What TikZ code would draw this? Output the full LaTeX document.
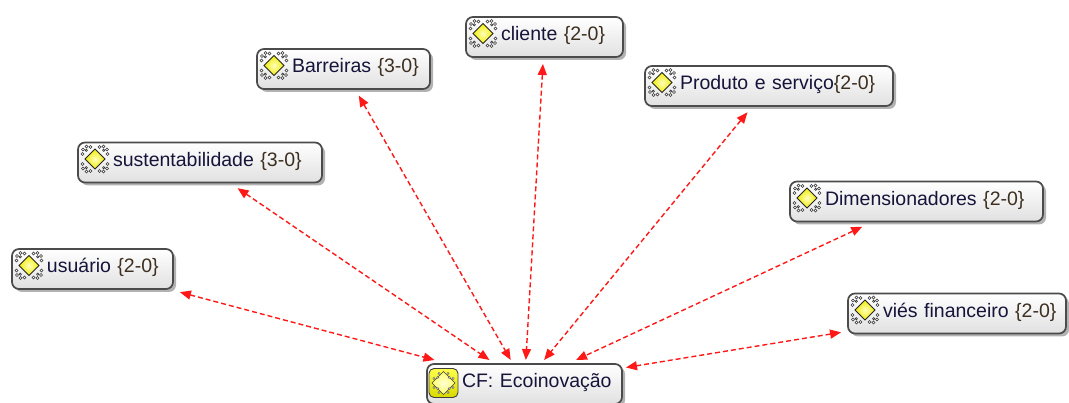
\documentclass[tikz,border=0pt]{standalone}
\usepackage{fontspec}
\setmainfont{Liberation Sans}
\usetikzlibrary{arrows.meta,shadows,calc}
\definecolor{txtc}{RGB}{22,20,58}
\definecolor{cntc}{RGB}{62,48,32}
\definecolor{bord}{RGB}{75,75,75}
\definecolor{arrc}{RGB}{255,24,24}
\definecolor{ylw}{RGB}{240,236,0}
\tikzset{
  codebox/.style={rectangle, rounded corners=7pt, draw=bord, line width=1.7pt,
    top color=white, bottom color=black!12,
    drop shadow={shadow xshift=3pt, shadow yshift=-3pt, fill=black!60},
    minimum height=40pt, inner xsep=0pt, inner ysep=0pt, align=left,
    text height=14.5pt, text depth=7pt,
    font=\fontsize{19.5}{22}\selectfont, text=txtc, outer sep=4pt},
  rel/.style={draw=arrc, line width=1.4pt, dash pattern=on 5pt off 3pt,
    {Triangle[length=11pt,width=9pt]}-{Triangle[length=11pt,width=9pt]}, shorten <=3pt},
  codeicon/.pic={
    \foreach \sx in {-1,1}{\foreach \sy in {-1,1}{
      \draw[black!80, line width=0.6pt, fill=white]
        (\sx*12.5,\sy*5) circle (1.5pt) (\sx*12,\sy*9.5) circle (1.5pt)
        (\sx*8.5,\sy*12.5) circle (1.5pt) (\sx*4.5,\sy*12) circle (1.5pt)
        (\sx*8.7,\sy*8.7) circle (1.1pt);
    }}
    \draw[black!85, line width=0.8pt, inner color=yellow!25, outer color=ylw]
      (0,-10) -- (10,0) -- (0,10) -- (-10,0) -- cycle;
  },
  cficon/.pic={
    \draw[line width=0.9pt, draw=black!75, top color=yellow!70!white, bottom color=yellow!85!black, rounded corners=5pt]
      (-14.5,-14.5) rectangle (14.5,14.5);
    \draw[black!75, line width=0.7pt, inner color=yellow!15, outer color=yellow!60!white]
      (0,-11.5) -- (11.5,0) -- (0,11.5) -- (-11.5,0) -- cycle;
    \foreach \a in {45,135,225,315}{
      \draw[black!70, line width=0.4pt, fill=white] (\a:8.1) circle (1.2pt);
      \draw[black!70, line width=0.4pt, fill=white] (\a-20:10.5) circle (1.1pt);
      \draw[black!70, line width=0.4pt, fill=white] (\a+20:10.5) circle (1.1pt);
    }
  }
}
\newcommand{\cnt}[1]{\textcolor{cntc}{\{#1\}}}
\begin{document}
\begin{tikzpicture}[x=1pt,y=-1pt]
\useasboundingbox (0,0) rectangle (1069,403);
\fill[white] (0,0) rectangle (1069,403);
% nodes
\node[codebox, text width=161pt] (usu) at (92.5,269) {\hspace*{35pt}\mbox{usuário \cnt{2-0}}};
\node[codebox, text width=244pt] (sus) at (200,162.5) {\hspace*{35pt}\mbox{sustentabilidade \cnt{3-0}}};
\node[codebox, text width=173pt] (bar) at (343.5,69) {\hspace*{35pt}\mbox{Barreiras \cnt{3-0}}};
\node[codebox, text width=157pt] (cli) at (544.5,37) {\hspace*{35pt}\mbox{cliente \cnt{2-0}}};
\node[codebox, text width=248pt] (pro) at (769,86) {\hspace*{35pt}\mbox{Produto e serviço\cnt{2-0}}};
\node[codebox, text width=253pt] (dim) at (916.5,201.5) {\hspace*{35pt}\mbox{Dimensionadores \cnt{2-0}}};
\node[codebox, text width=218pt] (vie) at (957,313.5) {\hspace*{35pt}\mbox{viés financeiro \cnt{2-0}}};
\node[codebox, text width=195pt] (cf) at (524.5,384) {\hspace*{35pt}\mbox{CF: Ecoinovação}};
% icons
\foreach \n in {usu,sus,bar,cli,pro,dim,vie}{
  \pic at ($(\n.west)+(21,-3.5)$) {codeicon};
}
\pic at ($(cf.west)+(20.5,-1)$) {cficon};
% connectors
\foreach \n in {usu,sus,bar,cli,pro,dim,vie}{
  \draw[rel] (\n) -- (cf);
}
\end{tikzpicture}
\end{document}
